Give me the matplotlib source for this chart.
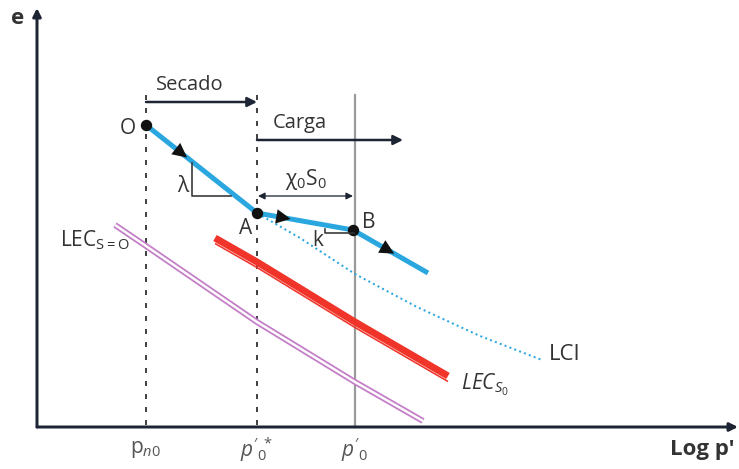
import matplotlib.pyplot as plt

plt.rcParams['font.family'] = ['Open Sans', 'DejaVu Sans']
plt.rcParams['mathtext.fontset'] = 'custom'
plt.rcParams['mathtext.rm'] = 'Open Sans'
plt.rcParams['mathtext.it'] = 'Open Sans:italic'

# diagram units: x grows with log p', y grows downward (lower e)
px = 0.72  # points per pixel

# stress levels on the log p' axis
p_n0 = 146
p0_star = 257
p0 = 355
tick_pos = [p_n0, p0_star, p0]
tick_text = [r'$\mathregular{p}_{n0}$', r"$p'_{0}\!{}^{*}$", r"$p'_{0}$"]

# path O -> A -> B -> end
path_x = [146, 257, 353, 428]
path_y = [125, 213, 230, 273]
arrow_frac = [0.32, 0.3, 0.5]

# LCI (dotted)
lci_x = [262, 300, 355, 417, 480, 542]
lci_y = [216, 238, 274, 307, 336, 360]

# LEC for S0 (red)
lec_s0_x = [215, 257, 355, 448]
lec_s0_y = [238, 262, 322, 376]

# LEC for s = 0 (purple)
lec_0_x = [115, 146, 257, 355, 423]
lec_0_y = [225, 246, 322, 382, 421]

ink = '#1d2433'
txt = '#333333'
blue = '#2aa7df'
red = '#f0342a'

fig = plt.figure(figsize=(7.39, 4.69), dpi=100)
ax = fig.add_axes([0, 0, 1, 1])
ax.set_xlim(0, 739)
ax.set_ylim(469, 0)
ax.axis('off')


def arrow(x0, y0, x1, y1, lw=2.5, color=ink, style='-|>', ms=14):
    ax.annotate('', xy=(x1, y1), xytext=(x0, y0),
                arrowprops=dict(arrowstyle=style, color=color, lw=lw * px,
                                mutation_scale=ms, shrinkA=0, shrinkB=0))


# axes
arrow(37, 427, 37, 8, lw=3, ms=12)
arrow(37, 427, 738, 427, lw=3, ms=12)
ax.text(18, 19, 'e', fontsize=16, fontweight='bold', color=txt, ha='center', va='center')
ax.text(702, 449, "Log p'", fontsize=16, fontweight='bold', color=txt, ha='center', va='center')

# vertical guides
for xv in [p_n0, p0_star]:
    ax.plot([xv, xv], [95, 427], color='#444444', lw=2 * px, ls=(0, (2.5, 4)))
ax.plot([p0, p0], [95, 427], color='#9a9a9a', lw=2.2 * px)

for xv, s in zip(tick_pos, tick_text):
    ax.text(xv, 450, s, fontsize=15, color='#555555', ha='center', va='center')

# stage arrows
arrow(p_n0, 102, p0_star, 102, lw=2.5)
ax.text(190, 85, 'Secado', fontsize=14.5, color=txt, ha='center', va='center')
arrow(p0_star, 140, 403, 140, lw=2.5)
ax.text(300, 123, 'Carga', fontsize=14.5, color=txt, ha='center', va='center')

# LEC s=0: two thin purple lines
ax.plot(lec_0_x, lec_0_y, color='#c47fc8', lw=6 * px, solid_capstyle='butt')
ax.plot(lec_0_x, lec_0_y, color='white', lw=2.4 * px, solid_capstyle='butt')
ax.text(60, 240, r'LEC$_{\mathregular{S=O}}$', fontsize=15, color=txt, ha='left', va='center')

# LEC S0: thick red band with thin line below
ax.plot(lec_s0_x, [y + 5.5 for y in lec_s0_y], color=red, lw=1.6 * px, solid_capstyle='butt')
ax.plot(lec_s0_x, lec_s0_y, color=red, lw=7 * px, solid_capstyle='butt')
ax.text(461, 385, r'$LEC_{S_0}$', fontsize=15, color=txt, ha='left', va='center')

# LCI
ax.plot(lci_x, lci_y, color=blue, lw=2 * px, ls=(0, (1, 1.6)))
ax.text(549, 355, 'LCI', fontsize=16, color=txt, ha='left', va='center')

# stress path
ax.plot(path_x, path_y, color=blue, lw=5 * px, solid_capstyle='butt')
for i in range(3):
    ax.plot(path_x[i], path_y[i], 'o', color='#111111', ms=10 * px)
    # arrowhead on each segment
    x0, y0 = path_x[i], path_y[i]
    x1, y1 = path_x[i + 1], path_y[i + 1]
    xm = x0 + (x1 - x0) * arrow_frac[i]
    ym = y0 + (y1 - y0) * arrow_frac[i]
    ax.annotate('', xy=(xm + (x1 - x0) * 0.05, ym + (y1 - y0) * 0.05), xytext=(xm, ym),
                arrowprops=dict(arrowstyle='-|>', color='#111111', lw=0,
                                mutation_scale=26, shrinkA=0, shrinkB=0))
ax.text(128, 129, 'O', fontsize=15, color=txt, ha='center', va='center')
ax.text(246, 229, 'A', fontsize=15, color=txt, ha='center', va='center')
ax.text(369, 223, 'B', fontsize=15, color=txt, ha='center', va='center')

# lambda slope triangle
ax.plot([192, 192, 231], [163, 196, 196], color='#333333', lw=1.6 * px)
ax.text(184, 186, r'$\mathregular{\lambda}$', fontsize=15, color=txt, ha='center', va='center')

# kappa mark
ax.plot([325, 325, 354], [229, 233, 233], color='#333333', lw=1.6 * px)
ax.text(318, 240, 'k', fontsize=15, color=txt, ha='center', va='center')

# chi0 S0 span
arrow(353, 196, 258, 196, lw=1.3, style='<|-|>', ms=10)
ax.text(306, 180, r'$\mathregular{\chi}_{\mathregular{0}}\mathregular{S}_{\mathregular{0}}$',
        fontsize=15, color=txt, ha='center', va='center')

fig.savefig('out.png', dpi=100)
